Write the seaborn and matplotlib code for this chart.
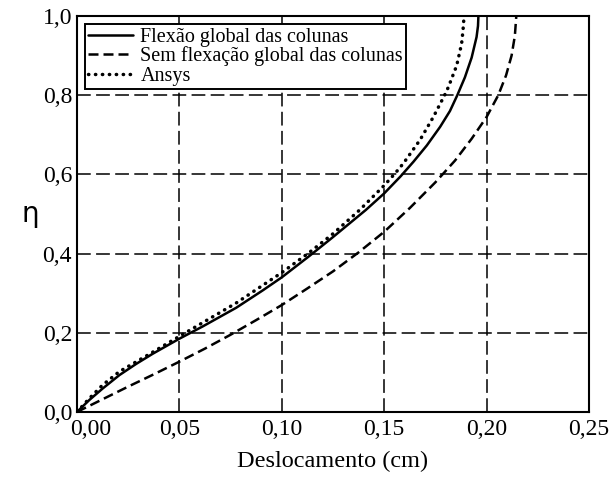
import matplotlib
matplotlib.use("Agg")
import pandas as pd
import matplotlib.pyplot as plt
import matplotlib.transforms as mtransforms
import seaborn as sns

# Curve data (deslocamento in cm, eta)
flexao_x = [0.0, 0.006, 0.0125, 0.0207, 0.0288, 0.037, 0.05, 0.0614, 0.0777, 0.0907,
            0.10, 0.1135, 0.1246, 0.1328, 0.141, 0.15, 0.158, 0.1643, 0.1708, 0.1773,
            0.1821, 0.1857, 0.1894, 0.1927, 0.1951, 0.1958, 0.196]
flexao_y = [0.0, 0.030, 0.059, 0.093, 0.121, 0.147, 0.185, 0.216, 0.263, 0.307,
            0.34, 0.394, 0.44, 0.475, 0.51, 0.552, 0.595, 0.632, 0.673, 0.72,
            0.76, 0.80, 0.845, 0.895, 0.947, 0.975, 1.0]

sem_x = [0.0, 0.0125, 0.025, 0.0375, 0.05, 0.0625, 0.075, 0.0875, 0.10, 0.1125,
         0.125, 0.1375, 0.15, 0.1625, 0.175, 0.1846, 0.1927, 0.20, 0.2057, 0.2095,
         0.2122, 0.2138, 0.2145]
sem_y = [0.0, 0.032, 0.064, 0.095, 0.127, 0.16, 0.195, 0.232, 0.27, 0.312,
         0.355, 0.403, 0.455, 0.515, 0.58, 0.635, 0.69, 0.745, 0.80, 0.85,
         0.90, 0.95, 1.0]

ansys_x = [0.0, 0.006, 0.0125, 0.0207, 0.035, 0.05, 0.0777, 0.10, 0.1135, 0.125,
           0.138, 0.15, 0.1554, 0.1594, 0.1675, 0.174, 0.1795, 0.1813, 0.1854,
           0.1878, 0.1885, 0.189]
ansys_y = [0.0, 0.034, 0.068, 0.102, 0.145, 0.191, 0.275, 0.352, 0.403, 0.45,
           0.51, 0.572, 0.603, 0.628, 0.687, 0.745, 0.80, 0.82, 0.875,
           0.93, 0.965, 1.0]

x_ticks = [0.0, 0.05, 0.10, 0.15, 0.20, 0.25]
x_tick_labels = ["0,00", "0,05", "0,10", "0,15", "0,20", "0,25"]
y_ticks = [0.0, 0.2, 0.4, 0.6, 0.8, 1.0]
y_tick_labels = ["0,0", "0,2", "0,4", "0,6", "0,8", "1,0"]

series_names = ["Flexão global das colunas", "Sem flexação global das colunas", "Ansys"]

sns.set_theme(style="white")
plt.rcParams["font.family"] = ["Liberation Serif", "DejaVu Serif"]

fig, ax = plt.subplots(figsize=(6.11, 4.79), dpi=100)
fig.subplots_adjust(left=0.126, right=0.964, top=0.9666, bottom=0.14)

df = pd.concat([
    pd.DataFrame({"x": flexao_x, "y": flexao_y, "serie": series_names[0]}),
    pd.DataFrame({"x": sem_x, "y": sem_y, "serie": series_names[1]}),
    pd.DataFrame({"x": ansys_x, "y": ansys_y, "serie": series_names[2]}),
])

styles = {
    series_names[0]: dict(linestyle="-", linewidth=1.8),
    series_names[1]: dict(linestyle=(0, (4, 2)), linewidth=1.8),
    series_names[2]: dict(linestyle=(0, (0.1, 1.9)), linewidth=2.5,
                          dash_capstyle="round"),
}

for name in series_names:
    sub = df[df["serie"] == name]
    sns.lineplot(data=sub, x="x", y="y", ax=ax, color="black",
                 estimator=None, sort=False, label=name, **styles[name])

ax.set_xlim(0, 0.25)
ax.set_ylim(0, 1.0)
ax.set_xticks(x_ticks)
ax.set_xticklabels(x_tick_labels)
ax.set_yticks(y_ticks)
ax.set_yticklabels(y_tick_labels)
ax.tick_params(axis="both", labelsize=17, direction="in", length=0,
               colors="black")
ax.tick_params(axis="y", pad=3.5)
ax.tick_params(axis="x", pad=5)

# first x label sits a bit to the right, like in the original
offset = mtransforms.ScaledTranslation(0.14, 0, fig.dpi_scale_trans)
first = ax.get_xticklabels()[0]
first.set_transform(first.get_transform() + offset)

# dashed grid
ax.grid(True, color="black", linestyle=(0, (9, 3.5)), linewidth=1.1)
ax.set_axisbelow(True)

for sp in ax.spines.values():
    sp.set_color("black")
    sp.set_linewidth(1.5)

ax.set_xlabel("Deslocamento (cm)", fontsize=17.5, color="black", labelpad=8)
ax.set_ylabel("η", fontsize=20, color="black", rotation=0,
              family=["DejaVu Sans"])
ax.yaxis.set_label_coords(-0.092, 0.465)

leg = ax.legend(loc="upper left", fontsize=14.5, frameon=True, fancybox=False,
                edgecolor="black", framealpha=1, handlelength=2.2,
                borderpad=0.15, labelspacing=0.0, handletextpad=0.38,
                borderaxespad=0.42)
leg.get_frame().set_linewidth(1.4)
for t in leg.get_texts():
    t.set_color("black")

fig.savefig("out.png", dpi=100)
